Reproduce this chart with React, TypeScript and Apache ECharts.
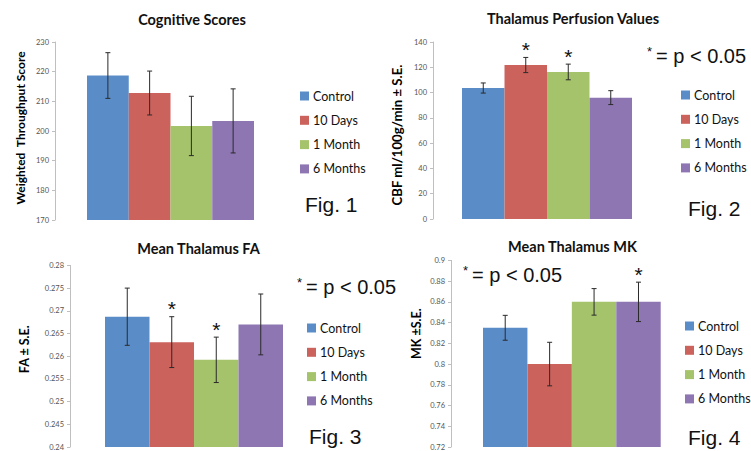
import React, { useEffect, useRef } from "react";
import * as echarts from "echarts";

// ---- data ----
const groups = ["Control", "10 Days", "1 Month", "6 Months"];

const cogValues = [218.7, 212.8, 201.7, 203.4];
const cogErrors = [7.7, 7.4, 10.0, 10.8];
const cogSig = [0, 0, 0, 0];

const perfValues = [103.6, 121.8, 116.3, 96.0];
const perfErrors = [4.0, 6.0, 6.2, 5.5];
const perfSig = [0, 1, 1, 0];

const faValues = [0.2687, 0.2631, 0.2592, 0.267];
const faErrors = [0.0063, 0.0056, 0.005, 0.0067];
const faSig = [0, 1, 1, 0];

const mkValues = [0.835, 0.8, 0.86, 0.86];
const mkErrors = [0.012, 0.021, 0.0128, 0.019];
const mkSig = [0, 0, 0, 1];

const titles = ["Cognitive Scores", "Thalamus Perfusion Values", "Mean Thalamus FA", "Mean Thalamus MK"];
const yNames = ["Weighted  Throughput Score", "CBF ml/100g/min \u00b1 S.E.", "FA \u00b1 S.E.", "MK \u00b1S.E."];
const figLabels = ["Fig. 1", "Fig. 2", "Fig. 3", "Fig. 4"];
const sigNote = "= p < 0.05";

const yMins = [170, 0, 0.24, 0.72];
const yMaxs = [230, 140, 0.28, 0.9];
const yIntervals = [10, 20, 0.005, 0.02];

const panelValues = [cogValues, perfValues, faValues, mkValues];
const panelErrors = [cogErrors, perfErrors, faErrors, mkErrors];
const panelSig = [cogSig, perfSig, faSig, mkSig];

// ---- layout / style ----
const colors = ["#5A8DC8", "#CB625C", "#A5C36A", "#8E76B3"];
const layout = [
  { grid: { left: 87, top: 42, width: 167, height: 178 }, offset: 32, nameGap: 29, nameShift: 3, nameSize: 12, titleX: 192, titleY: 21, legendLeft: 300, legendTop: 89, figX: 305, figY: 204, note: null as null | number[] },
  { grid: { left: 462, top: 42, width: 170, height: 177 }, offset: 29, nameGap: 30, nameShift: -4.5, nameSize: 13.2, titleX: 573, titleY: 20, legendLeft: 681, legendTop: 88, figX: 688, figY: 208.5, note: [647, 56] },
  { grid: { left: 105, top: 265.4, width: 178, height: 183 }, offset: 35, nameGap: 39, nameShift: 7, nameSize: 12.5, titleX: 198.5, titleY: 250, legendLeft: 307, legendTop: 321, figX: 309, figY: 436, note: [297, 287] },
  { grid: { left: 483, top: 260.4, width: 177.7, height: 188.6 }, offset: 32, nameGap: 28, nameShift: 20, nameSize: 12.5, titleX: 572.5, titleY: 248, legendLeft: 685, legendTop: 319, figX: 688, figY: 437.5, note: [463, 275] },
];

function buildOption() {
  const grid: any[] = [];
  const xAxis: any[] = [];
  const yAxis: any[] = [];
  const series: any[] = [];
  const title: any[] = [];
  const legend: any[] = [];
  const graphic: any[] = [];

  layout.forEach((L, p) => {
    grid.push({ ...L.grid, containLabel: false });
    xAxis.push({ type: "category", gridIndex: p, data: groups, show: false, boundaryGap: true });
    const up = Math.max(0, L.nameShift) * 2;
    const down = Math.max(0, -L.nameShift) * 2;
    yAxis.push({
      type: "value",
      gridIndex: p,
      min: yMins[p],
      max: yMaxs[p],
      interval: yIntervals[p],
      offset: L.offset,
      name: yNames[p],
      nameLocation: "middle",
      nameGap: L.nameGap,
      nameTextStyle: {
        fontFamily: "Lato",
        fontWeight: "bold",
        fontSize: L.nameSize,
        color: "#000",
        padding: [0, down, 0, up],
      },
      axisLine: { show: true, lineStyle: { color: "#BFBFBF", width: 1 } },
      axisTick: { show: true, length: 3, lineStyle: { color: "#BFBFBF" } },
      axisLabel: { fontFamily: "Lato", fontSize: 7.5, color: "#555", margin: 6 },
      splitLine: { show: false },
    });
    groups.forEach((g, j) => {
      series.push({
        type: "bar",
        name: g,
        xAxisIndex: p,
        yAxisIndex: p,
        barGap: "-100%",
        barCategoryGap: "0%",
        itemStyle: { color: colors[j] },
        data: groups.map((_, i) => (i === j ? panelValues[p][i] : "-")),
      });
    });
    series.push({
      type: "custom",
      name: "err" + p,
      xAxisIndex: p,
      yAxisIndex: p,
      z: 10,
      data: groups.map((_, i) => [i, panelValues[p][i], panelErrors[p][i], panelSig[p][i]]),
      encode: { x: 0, y: 1 },
      renderItem: (params: any, api: any) => {
        const i = api.value(0);
        const v = api.value(1);
        const e = api.value(2);
        const s = api.value(3);
        const top = api.coord([i, v + e]);
        const bot = api.coord([i, v - e]);
        const st = { stroke: "#2a2a2a", lineWidth: 1 };
        const children: any[] = [
          { type: "line", shape: { x1: top[0], y1: top[1], x2: bot[0], y2: bot[1] }, style: st },
          { type: "line", shape: { x1: top[0] - 2.5, y1: top[1], x2: top[0] + 2.5, y2: top[1] }, style: st },
          { type: "line", shape: { x1: bot[0] - 2.5, y1: bot[1], x2: bot[0] + 2.5, y2: bot[1] }, style: st },
        ];
        if (s) {
          children.push({
            type: "text",
            x: top[0],
            y: top[1] - 8,
            style: { text: "*", fontFamily: "Liberation Sans", fontSize: 21, fill: "#111", align: "center", verticalAlign: "middle" },
          });
        }
        return { type: "group", children };
      },
    });
    title.push({
      text: titles[p],
      left: L.titleX,
      top: L.titleY - 9,
      padding: 0,
      textAlign: "center",
      textStyle: { fontFamily: "Lato", fontWeight: "bold", fontSize: 14.5, color: "#111" },
    });
    legend.push({
      data: groups,
      orient: "vertical",
      left: L.legendLeft,
      top: L.legendTop,
      padding: 0,
      itemWidth: 9,
      itemHeight: 9,
      itemGap: 10.3,
      icon: "rect",
      selectedMode: false,
      textStyle: { fontFamily: "Lato", fontSize: 12.5, color: "#111", lineHeight: 14, padding: [0, 0, 0, -1] },
    });
    graphic.push({
      type: "text",
      x: L.figX,
      y: L.figY,
      style: { text: figLabels[p], fontFamily: "Liberation Sans", fontSize: 21, fill: "#111", align: "left", verticalAlign: "middle" },
    });
    if (L.note) {
      graphic.push({
        type: "text",
        x: L.note[0],
        y: L.note[1] - 5,
        style: { text: "*", fontFamily: "Liberation Sans", fontSize: 13, fill: "#111", align: "left", verticalAlign: "middle" },
      });
      graphic.push({
        type: "text",
        x: L.note[0] + 9,
        y: L.note[1],
        style: { text: sigNote, fontFamily: "Liberation Sans", fontSize: 20, fill: "#111", align: "left", verticalAlign: "middle" },
      });
    }
  });

  return { animation: false, backgroundColor: "#fff", grid, xAxis, yAxis, series, title, legend, graphic };
}

export default function App() {
  const ref = useRef<HTMLDivElement>(null);
  useEffect(() => {
    if (!ref.current) return;
    const chart = echarts.init(ref.current, undefined, { renderer: "svg" });
    chart.setOption(buildOption() as any);
    return () => chart.dispose();
  }, []);
  return <div ref={ref} style={{ position: "absolute", left: 0, top: 0, width: 751, height: 451 }} />;
}
